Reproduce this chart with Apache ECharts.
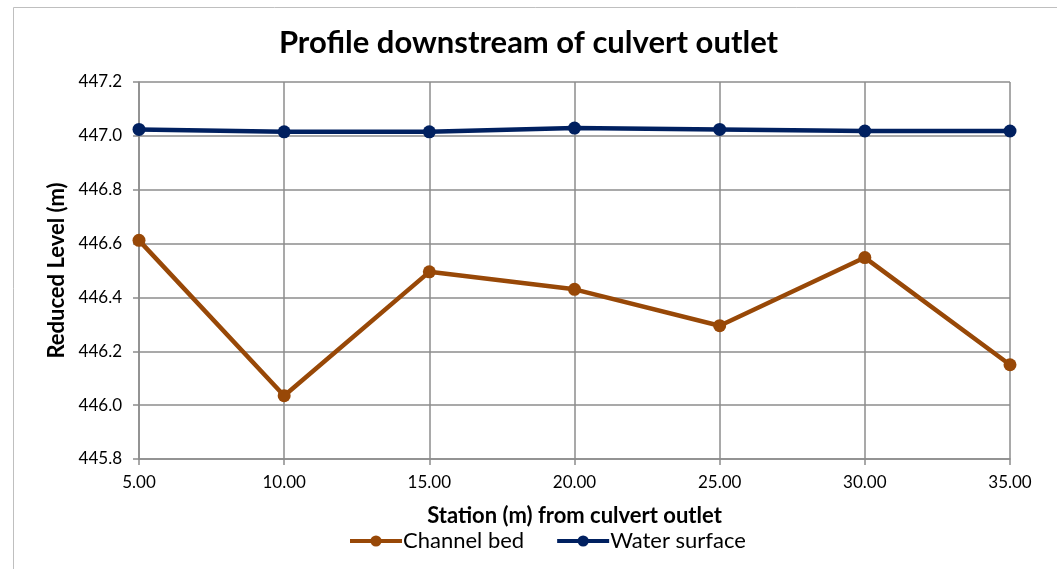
<!DOCTYPE html>
<html>
<head>
<meta charset="utf-8">
<script src="https://cdn.jsdelivr.net/npm/echarts@6/dist/echarts.min.js"></script>
<style>
  html, body { margin: 0; padding: 0; background: #fff; }
  #chart { width: 1057px; height: 569px; }
</style>
</head>
<body>
<div id="chart"></div>
<script>
// Stations downstream of the culvert outlet (m)
const stations = [5, 10, 15, 20, 25, 30, 35];
// Reduced levels (m)
const channelBed = [446.612, 446.035, 446.495, 446.430, 446.295, 446.548, 446.150];
const waterSurface = [447.024, 447.015, 447.015, 447.029, 447.024, 447.018, 447.018];
const seriesNames = ['Channel bed', 'Water surface'];

const FONT = 'Lato, "Open Sans", sans-serif';

const chart = echarts.init(document.getElementById('chart'), null, { renderer: 'canvas' });

const pairs = (ys) => stations.map((x, i) => [x, ys[i]]);

chart.setOption({
  animation: false,
  backgroundColor: '#ffffff',
  title: {
    text: 'Profile downstream of culvert outlet',
    left: 'center',
    top: 22,
    textStyle: { fontFamily: FONT, fontSize: 31, fontWeight: 'bold', color: '#000' }
  },
  graphic: [
    { type: 'polyline', silent: true,
      shape: { points: [[13.5, 569], [13.5, 7.5], [1057, 7.5]] },
      style: { stroke: '#bfbfbf', lineWidth: 1, fill: null } }
  ],
  legend: {
    top: 525,
    left: 343,
    itemWidth: 52,
    itemHeight: 14,
    itemGap: 31,
    data: seriesNames,
    lineStyle: { width: 4 },
    textStyle: { fontFamily: FONT, fontSize: 22, color: '#000', padding: [0, 0, 0, -4] }
  },
  grid: { left: 139, right: 47, top: 82, bottom: 110, containLabel: false },
  xAxis: {
    type: 'value',
    min: 5, max: 35, interval: 5,
    name: 'Station (m) from culvert outlet',
    nameLocation: 'middle',
    nameGap: 46,
    nameTextStyle: { fontFamily: FONT, fontSize: 22, fontWeight: 'bold', color: '#000' },
    axisLine: { show: true, lineStyle: { color: '#8c8c8c', width: 1.5 } },
    axisTick: { show: true, length: 6, lineStyle: { color: '#8c8c8c', width: 1.5 } },
    axisLabel: { fontFamily: FONT, fontSize: 17, color: '#000', margin: 15,
      formatter: (v) => v.toFixed(2) },
    splitLine: { show: true, lineStyle: { color: '#8c8c8c', width: 1.5 } }
  },
  yAxis: {
    type: 'value',
    min: 445.8, max: 447.2, interval: 0.2,
    name: 'Reduced Level (m)',
    nameLocation: 'middle',
    nameGap: 68,
    nameTextStyle: { fontFamily: FONT, fontSize: 22, fontWeight: 'bold', color: '#000' },
    axisLine: { show: true, lineStyle: { color: '#8c8c8c', width: 1.5 } },
    axisTick: { show: true, length: 6, lineStyle: { color: '#8c8c8c', width: 1.5 } },
    axisLabel: { fontFamily: FONT, fontSize: 17, color: '#000', margin: 17,
      formatter: (v) => v.toFixed(1) },
    splitLine: { show: true, lineStyle: { color: '#8c8c8c', width: 1.5 } }
  },
  series: [
    {
      name: seriesNames[0], type: 'line', data: pairs(channelBed),
      symbol: 'circle', symbolSize: 13,
      lineStyle: { color: '#984807', width: 4.5 },
      itemStyle: { color: '#984807' }
    },
    {
      name: seriesNames[1], type: 'line', data: pairs(waterSurface),
      symbol: 'circle', symbolSize: 13,
      lineStyle: { color: '#002060', width: 4.5 },
      itemStyle: { color: '#002060' }
    }
  ]
});
</script>
</body>
</html>
